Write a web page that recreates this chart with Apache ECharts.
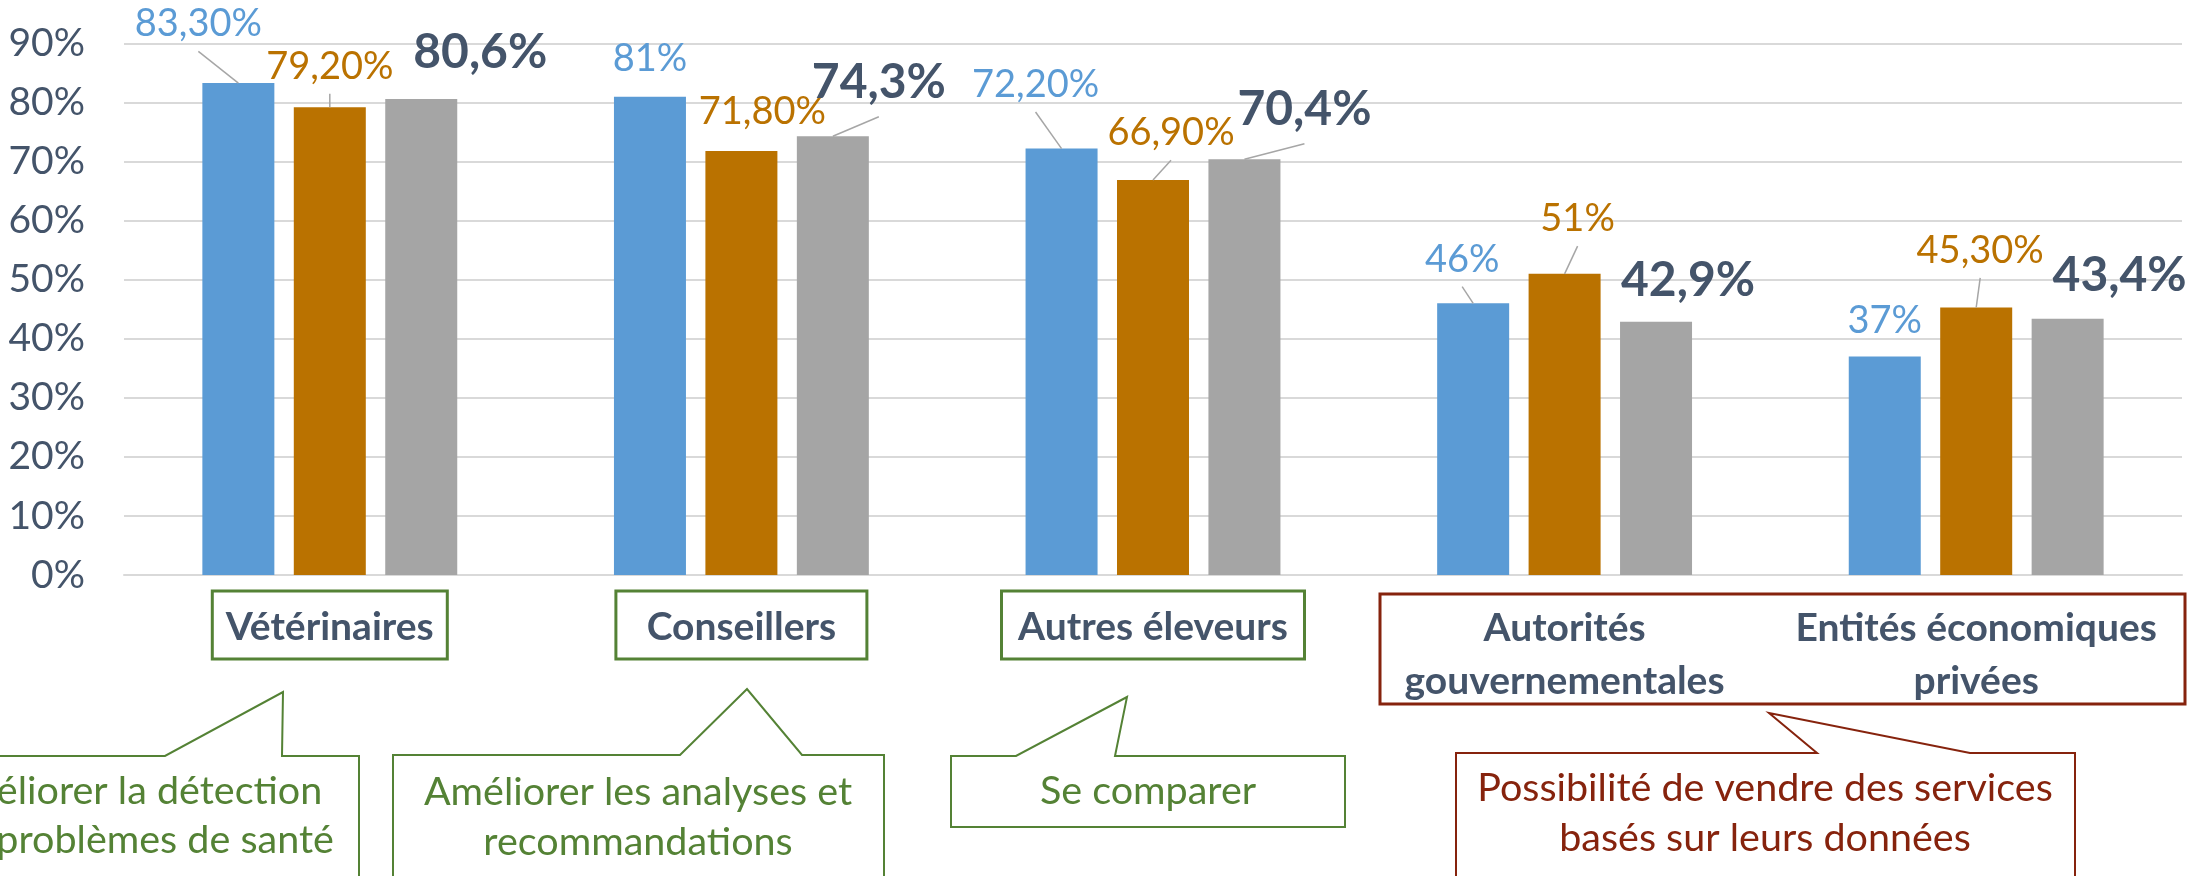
<!DOCTYPE html>
<html>
<head>
<meta charset="utf-8">
<script src="https://cdn.jsdelivr.net/npm/echarts@6/dist/echarts.min.js"></script>
<style>
  html, body { margin: 0; padding: 0; background: #fff; }
  #chart { width: 2210px; height: 876px; }
</style>
</head>
<body>
<div id="chart"></div>
<script>
// données (en %)
const categories = ['Vétérinaires', 'Conseillers', 'Autres éleveurs', 'Autorités\ngouvernementales', 'Entités économiques\nprivées'];
const blueValues = [83.3, 81, 72.2, 46, 37];
const orangeValues = [79.2, 71.8, 66.9, 51, 45.3];
const grayValues = [80.6, 74.3, 70.4, 42.9, 43.4];
const yMin = 0, yMax = 90, yStep = 10;

// textes des bulles
const calloutTexts = [
  'Améliorer la détection\ndes problèmes de santé',
  'Améliorer les analyses et\nrecommandations',
  'Se comparer',
  'Possibilité de vendre des services\nbasés sur leurs données'
];

// couleurs
const BLUE = '#5B9BD5', ORANGE = '#BA7200', GRAY = '#A5A5A5';
const DARK = '#44546A', GREEN = '#548235', RED = '#86230D';
const FONT = 'Lato, "Open Sans", sans-serif';

// mise en page des étiquettes (centre de l'étiquette par rapport au haut de la barre)
const LABEL_FS = 38, BIG_FS = 48, CAT_FS = 39, NOTE_FS = 39.5;
const labelOffsets = [
  [[-40, -59], [0, -38], [-26, -64], [-11, -44], [0, -36]],
  [[0, -41], [21, -39], [18, -47], [13, -55], [4, -57]],
  [[59, -46], [46, -54], [60, -50], [32, -41], [52, -43]]
];
// traits de rappel visibles
const leaderFlags = [
  [1, 0, 1, 1, 0],
  [1, 0, 1, 1, 1],
  [0, 1, 1, 0, 0]
];
const BAR_W = 72, BAR_GAP = 0.27;
const BAR_STEP = BAR_W * (1 + BAR_GAP);

const seriesValues = [blueValues, orangeValues, grayValues];

const fmtSmall = v => (Number.isInteger(v) ? v : v.toFixed(2).replace('.', ',')) + '%';
const fmtBig = v => v.toFixed(1).replace('.', ',') + '%';

function barSeries(k, color) {
  const big = k === 2;
  return {
    type: 'bar',
    data: seriesValues[k],
    barWidth: BAR_W,
    barGap: (BAR_GAP * 100) + '%',
    itemStyle: { color: color },
    label: {
      show: true,
      position: 'top',
      fontFamily: FONT,
      fontSize: big ? BIG_FS : LABEL_FS,
      fontWeight: big ? 'bold' : 'normal',
      color: big ? DARK : color,
      formatter: p => big ? fmtBig(p.value) : fmtSmall(p.value)
    },
    labelLayout: p => {
      const o = labelOffsets[k][p.dataIndex];
      const cx = p.rect.x + p.rect.width / 2;
      const top = p.rect.y;
      return {
        dx: cx + o[0] - (p.labelRect.x + p.labelRect.width / 2),
        dy: top + o[1] - (p.labelRect.y + p.labelRect.height / 2)
      };
    }
  };
}

// données des traits de rappel : [catégorie, valeur, série]
const leaderData = [];
leaderFlags.forEach((row, k) => row.forEach((f, i) => {
  if (f) leaderData.push([i, seriesValues[k][i], k]);
}));

const catBox = w => ({
  width: w, align: 'center', padding: [17, 10, 12, 10], lineHeight: 68,
  fontSize: CAT_FS, fontWeight: 'bold', color: DARK, fontFamily: FONT,
  borderColor: GREEN, borderWidth: 3
});

const chart = echarts.init(document.getElementById('chart'));

const option = {
  animation: false,
  textStyle: { fontFamily: FONT },
  grid: { left: 124, right: 28, top: 43.5, bottom: 301, outerBoundsMode: 'none' },
  xAxis: {
    type: 'category',
    data: categories,
    axisTick: { show: false },
    axisLine: { lineStyle: { color: '#D9D9D9', width: 2 } },
    axisLabel: {
      margin: 16,
      interval: 0,
      formatter: (val, idx) => idx < 3
        ? '{g' + idx + '|' + val + '}'
        : '{sp| }\n' + val.split('\n').map(s => '{r|' + s + '}').join('\n'),
      rich: {
        g0: catBox(215),
        g1: catBox(231),
        g2: catBox(283),
        sp: { fontSize: 1, lineHeight: 11 },
        r: { fontSize: CAT_FS, fontWeight: 'bold', color: DARK, fontFamily: FONT, lineHeight: 53 }
      }
    }
  },
  yAxis: {
    type: 'value',
    min: yMin,
    max: yMax,
    interval: yStep,
    axisLine: { show: false },
    axisTick: { show: false },
    splitLine: { lineStyle: { color: '#D9D9D9', width: 2 } },
    axisLabel: { formatter: '{value}%', fontSize: 39, color: DARK, margin: 39, fontFamily: FONT }
  },
  series: [
    barSeries(0, BLUE),
    barSeries(1, ORANGE),
    barSeries(2, GRAY),
    {
      type: 'custom',
      data: leaderData,
      encode: { x: 0, y: 1 },
      z: 5,
      silent: true,
      renderItem: (params, api) => {
        const i = api.value(0), v = api.value(1), k = api.value(2);
        const p = api.coord([i, v]);
        const bx = p[0] + (k - 1) * BAR_STEP;
        const o = labelOffsets[k][i];
        const fs = k === 2 ? BIG_FS : LABEL_FS;
        return {
          type: 'line',
          shape: { x1: bx + o[0], y1: p[1] + o[1] + 0.72 * fs, x2: bx, y2: p[1] },
          style: { stroke: '#A6A6A6', lineWidth: 1.5 }
        };
      }
    }
  ],
  graphic: [
    { type: 'rect', silent: true, shape: { x: 1380, y: 594, width: 805, height: 110 },
      style: { fill: 'none', stroke: RED, lineWidth: 3 } },
    { type: 'polygon', silent: true,
      shape: { points: [[-20, 756], [165, 756], [283, 692], [282, 756], [359, 756], [359, 890], [-20, 890]] },
      style: { fill: '#fff', stroke: GREEN, lineWidth: 2 } },
    { type: 'polygon', silent: true,
      shape: { points: [[393, 755], [680, 755], [747, 689], [802, 755], [884, 755], [884, 890], [393, 890]] },
      style: { fill: '#fff', stroke: GREEN, lineWidth: 2 } },
    { type: 'polygon', silent: true,
      shape: { points: [[951, 756], [1016, 756], [1127, 697], [1115, 756], [1345, 756], [1345, 827], [951, 827]] },
      style: { fill: '#fff', stroke: GREEN, lineWidth: 2 } },
    { type: 'polygon', silent: true,
      shape: { points: [[1456, 753], [1817, 753], [1769, 713], [1970, 753], [2075, 753], [2075, 890], [1456, 890]] },
      style: { fill: '#fff', stroke: RED, lineWidth: 2 } },
    { type: 'text', silent: true, x: 130, y: 816,
      style: { text: calloutTexts[0], fill: GREEN, fontSize: NOTE_FS, fontFamily: FONT, align: 'center', verticalAlign: 'middle', lineHeight: 49 } },
    { type: 'text', silent: true, x: 638, y: 817,
      style: { text: calloutTexts[1], fill: GREEN, fontSize: NOTE_FS, fontFamily: FONT, align: 'center', verticalAlign: 'middle', lineHeight: 50 } },
    { type: 'text', silent: true, x: 1148, y: 791,
      style: { text: calloutTexts[2], fill: GREEN, fontSize: NOTE_FS, fontFamily: FONT, align: 'center', verticalAlign: 'middle' } },
    { type: 'text', silent: true, x: 1765, y: 813,
      style: { text: calloutTexts[3], fill: RED, fontSize: NOTE_FS, fontFamily: FONT, align: 'center', verticalAlign: 'middle', lineHeight: 50 } }
  ]
};

chart.setOption(option);
window.addEventListener('resize', () => chart.resize());
</script>
</body>
</html>
